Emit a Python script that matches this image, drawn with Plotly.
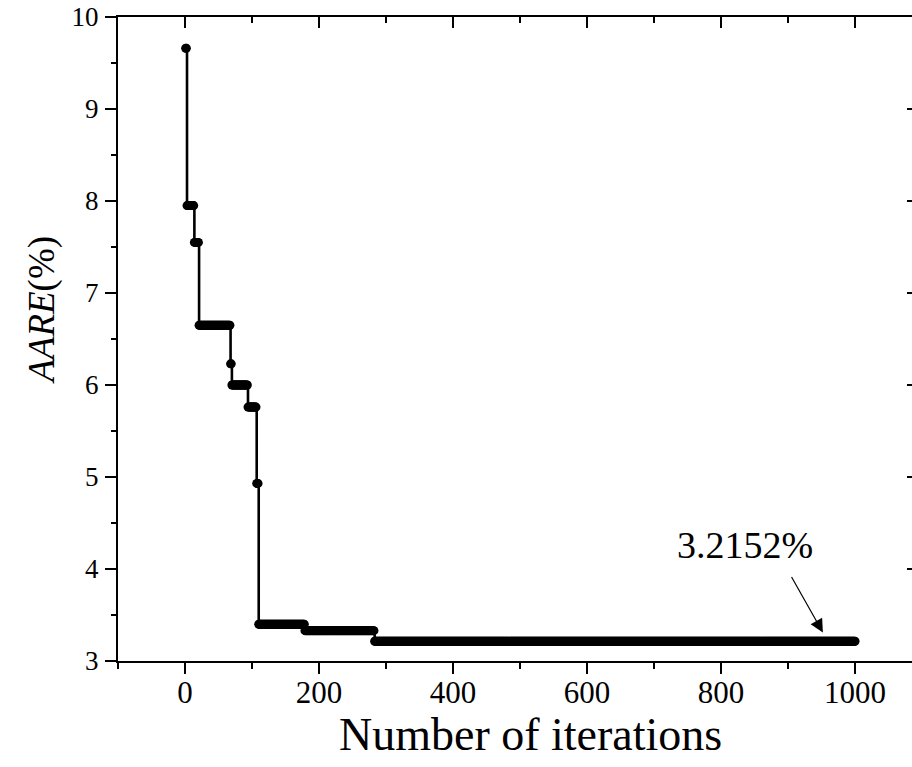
import numpy as np
import plotly.graph_objects as go

# Best-so-far AARE during the optimisation: each entry starts a new plateau
step_start_iter = [1, 3, 14, 21, 68, 70, 94, 107, 110, 179, 283]
step_aare = [9.66, 7.95, 7.55, 6.65, 6.23, 6.00, 5.76, 4.93, 3.40, 3.33, 3.2152]
n_iterations = 1000
final_label = "3.2152%"

x_tick_vals = [0, 200, 400, 600, 800, 1000]
y_tick_vals = [3, 4, 5, 6, 7, 8, 9, 10]

# Expand the plateaus into one value per iteration
iterations = np.arange(1, n_iterations + 1)
aare = np.empty(n_iterations)
bounds = step_start_iter + [n_iterations + 1]
for k, val in enumerate(step_aare):
    aare[(iterations >= bounds[k]) & (iterations < bounds[k + 1])] = val

FONT = "Liberation Serif"
X_RANGE = [-100, 1085]
Y_RANGE = [3, 10]

fig = go.Figure()
fig.add_trace(go.Scatter(
    x=iterations, y=aare, mode="lines+markers",
    line=dict(color="black", width=2.6, shape="hv"),
    marker=dict(color="black", size=9),
    showlegend=False, hoverinfo="skip",
))
# empty trace so the mirrored top/right axes are drawn
fig.add_trace(go.Scatter(x=[], y=[], xaxis="x2", yaxis="y2",
                         showlegend=False, hoverinfo="skip"))

fig.update_layout(
    width=912, height=767,
    margin=dict(l=118, r=0, t=17, b=106),
    paper_bgcolor="white", plot_bgcolor="white",
    font=dict(family=FONT, color="black"),
    xaxis=dict(
        range=X_RANGE, tickvals=x_tick_vals, ticks="outside", ticklen=11,
        tickwidth=2, tickcolor="black", showline=True, linewidth=2,
        linecolor="black", showgrid=False, zeroline=False,
        tickfont=dict(family=FONT, size=31, color="black"),
        ticklabelstandoff=-8,
        minor=dict(ticks="outside", ticklen=6, tickwidth=2, dtick=100,
                   tick0=0, tickcolor="black", showgrid=False),
    ),
    yaxis=dict(
        range=Y_RANGE, tickvals=y_tick_vals, ticks="outside", ticklen=11,
        tickwidth=2, tickcolor="black", showline=True, linewidth=2,
        linecolor="black", showgrid=False, zeroline=False,
        tickfont=dict(family=FONT, size=27, color="black"),
        ticklabelstandoff=1,
        minor=dict(ticks="outside", ticklen=5, tickwidth=2, dtick=0.5,
                   tick0=0, tickcolor="black", showgrid=False),
    ),
    xaxis2=dict(
        range=X_RANGE, overlaying="x", side="top", anchor="y",
        tickvals=x_tick_vals, ticks="inside", ticklen=11, tickwidth=2,
        tickcolor="black", showline=True, linewidth=2, linecolor="black",
        showgrid=False, zeroline=False, showticklabels=False,
        minor=dict(ticks="inside", ticklen=6, tickwidth=2, dtick=100,
                   tick0=0, tickcolor="black", showgrid=False),
    ),
    yaxis2=dict(
        range=Y_RANGE, overlaying="y", side="right", anchor="x",
        tickvals=y_tick_vals, ticks="inside", ticklen=5, tickwidth=2,
        tickcolor="black", showline=False, showgrid=False, zeroline=False,
        showticklabels=False,
    ),
)

# Axis titles
fig.add_annotation(
    text="Number of iterations", xref="paper", yref="paper",
    x=0.52, y=-0.072, xanchor="center", yanchor="top", showarrow=False,
    font=dict(family=FONT, size=46, color="black"),
)
fig.add_annotation(
    text="<i>AARE</i>(%)", xref="paper", yref="paper",
    x=-0.096, y=0.545, xanchor="center", yanchor="middle", showarrow=False,
    textangle=-90, font=dict(family=FONT, size=37, color="black"),
)

# Final-value label and pointer
fig.add_annotation(
    text=final_label, x=836, y=4.26, xref="x", yref="y",
    showarrow=False, font=dict(family=FONT, size=38, color="black"),
)
fig.add_annotation(
    text="", x=952, y=3.31, xref="x", yref="y",
    ax=904, ay=3.93, axref="x", ayref="y",
    showarrow=True, arrowhead=2, arrowsize=2.2, arrowwidth=1.2,
    arrowcolor="black", standoff=0,
)

fig.write_html("out.html")
